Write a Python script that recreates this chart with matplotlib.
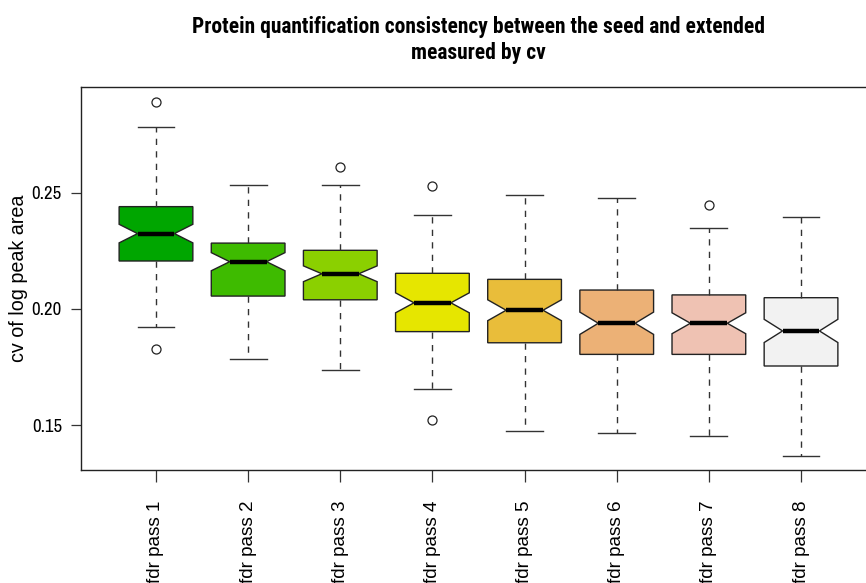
import matplotlib
matplotlib.use("Agg")
import matplotlib.pyplot as plt
from matplotlib import font_manager

labels = ["fdr pass 1", "fdr pass 2", "fdr pass 3", "fdr pass 4",
          "fdr pass 5", "fdr pass 6", "fdr pass 7", "fdr pass 8"]
whisker_hi = [0.2782, 0.2534, 0.2534, 0.2404, 0.2490, 0.2477, 0.2349, 0.2395]
q3 = [0.2440, 0.2283, 0.2252, 0.2153, 0.2127, 0.2081, 0.2060, 0.2048]
medians = [0.2324, 0.2203, 0.2151, 0.2026, 0.1994, 0.1938, 0.1938, 0.1905]
q1 = [0.2206, 0.2055, 0.2039, 0.1902, 0.1854, 0.1804, 0.1804, 0.1754]
whisker_lo = [0.1922, 0.1783, 0.1737, 0.1654, 0.1474, 0.1467, 0.1451, 0.1367]
notch_half = [0.0040, 0.0039, 0.0034, 0.0043, 0.0045, 0.0048, 0.0045, 0.0050]
outliers = [[0.2892, 0.1826], [], [0.2609], [0.2530, 0.1522], [], [], [0.2447], []]
colors = ["#00A600", "#3EBB00", "#8BD000", "#E6E600",
          "#E9BD3A", "#ECB176", "#EFC2B3", "#F2F2F2"]
yticks = [0.15, 0.20, 0.25]
ytick_labels = ["0.15", "0.20", "0.25"]

names = {f.name for f in font_manager.fontManager.ttflist}
def pick(*cands):
    for c in cands:
        if c in names:
            return c
    return "DejaVu Sans"
narrow = pick("Roboto Condensed", "Archivo Narrow", "PT Sans Narrow", "Liberation Sans")
narrow_tick = pick("Archivo Narrow", "Roboto Condensed", "Liberation Sans")
regular = pick("Liberation Sans", "Arimo", "DejaVu Sans")

W, H = 866, 583
fig = plt.figure(figsize=(W / 100, H / 100), dpi=100)
left_px, right_px, top_px, bot_px = 80.7, 876.3, 86.7, 470.0
ax = fig.add_axes([left_px / W, 1 - bot_px / H, (right_px - left_px) / W, (bot_px - top_px) / H])

stats = []
for i in range(len(labels)):
    stats.append(dict(med=medians[i], q1=q1[i], q3=q3[i],
                      whislo=whisker_lo[i], whishi=whisker_hi[i],
                      cilo=medians[i] - notch_half[i], cihi=medians[i] + notch_half[i],
                      fliers=outliers[i], label=labels[i]))

positions = list(range(1, len(labels) + 1))
res = ax.bxp(stats, positions=positions, widths=0.8, capwidths=0.4,
             shownotches=True, patch_artist=True, manage_ticks=False,
             boxprops=dict(edgecolor="#222222", linewidth=1.0),
             medianprops=dict(color="black", linewidth=3.2, solid_capstyle="butt"),
             whiskerprops=dict(color="#333333", linewidth=1.0, linestyle=(0, (4.5, 4.5))),
             capprops=dict(color="#333333", linewidth=1.0),
             flierprops=dict(marker="o", markerfacecolor="none", markeredgecolor="#222222",
                             markersize=6.5, markeredgewidth=0.9, linestyle="none"))
for patch, c in zip(res["boxes"], colors):
    patch.set_facecolor(c)

ax.set_xlim(0.183, 8.817)
ax.set_ylim(0.13063, 0.29563)
ax.set_xticks(positions)
ax.set_xticklabels(labels, rotation=90, fontsize=13.6, family=regular, va="top")
ax.set_yticks(yticks)
ax.set_yticklabels(ytick_labels, fontsize=13.5, family=narrow_tick)
ax.tick_params(axis="x", length=8.5, width=0.9, pad=13.5, color="#333333")
ax.tick_params(axis="y", length=7, width=0.9, pad=6.5, color="#333333")
for s in ax.spines.values():
    s.set_linewidth(1.0)
    s.set_color("#222222")

ax.set_ylabel("cv of log peak area", fontsize=14.2, family=regular, va="center")
ax.yaxis.set_label_coords(-(left_px - 18.5) / (right_px - left_px), 0.5)

ax.set_title("Protein quantification consistency between the seed and extended\nmeasured by cv",
             fontsize=15.5, fontweight="bold", family=narrow, pad=20, linespacing=1.25)

fig.savefig("out.png", dpi=100)
